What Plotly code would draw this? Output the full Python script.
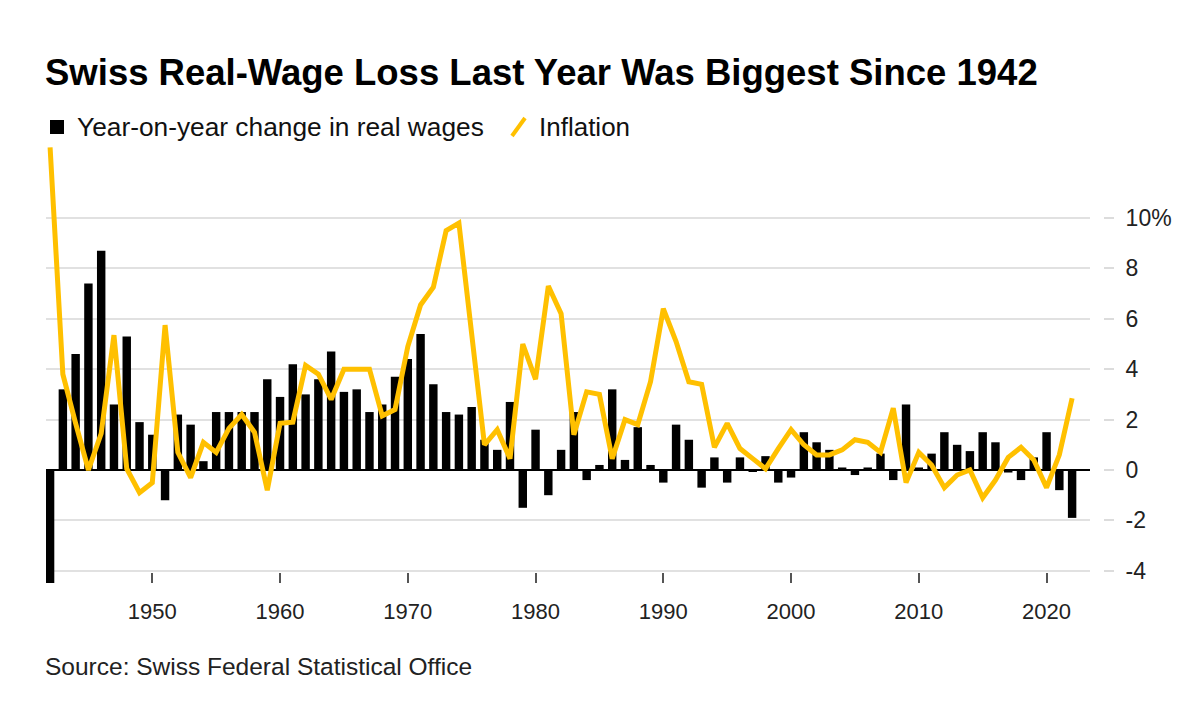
import plotly.graph_objects as go

years = list(range(1942, 2023))

real_wage_change = [
    -4.5, 3.2, 4.6, 7.4, 8.7, 2.6, 5.3, 1.9, 1.4, -1.2,      # 1942-1951
    2.2, 1.8, 0.35, 2.3, 2.3, 2.3, 2.3, 3.6, 2.9, 4.2,       # 1952-1961
    3.0, 3.6, 4.7, 3.1, 3.2, 2.3, 2.6, 3.7, 4.4, 5.4,        # 1962-1971
    3.4, 2.3, 2.2, 2.5, 1.2, 0.8, 2.7, -1.5, 1.6, -1.0,      # 1972-1981
    0.8, 2.3, -0.4, 0.2, 3.2, 0.4, 1.7, 0.2, -0.5, 1.8,      # 1982-1991
    1.2, -0.7, 0.5, -0.5, 0.5, -0.05, 0.55, -0.5, -0.3, 1.5, # 1992-2001
    1.1, 0.8, 0.1, -0.2, 0.1, 0.65, -0.4, 2.6, 0.1, 0.65,    # 2002-2011
    1.5, 1.0, 0.75, 1.5, 1.1, -0.1, -0.4, 0.5, 1.5, -0.8,    # 2012-2021
    -1.9,                                                    # 2022
]

inflation = [
    12.8, 3.8, 1.85, 0.0, 1.45, 5.35, 0.05, -0.9, -0.5, 5.75,  # 1942-1951
    0.7, -0.3, 1.1, 0.7, 1.65, 2.2, 1.5, -0.8, 1.85, 1.9,      # 1952-1961
    4.15, 3.8, 2.8, 4.0, 4.0, 4.0, 2.15, 2.4, 4.9, 6.55,       # 1962-1971
    7.25, 9.5, 9.8, 5.5, 1.0, 1.6, 0.45, 5.0, 3.6, 7.3,        # 1972-1981
    6.2, 1.4, 3.1, 3.0, 0.45, 2.0, 1.8, 3.5, 6.4, 5.1,         # 1982-1991
    3.5, 3.4, 0.9, 1.85, 0.85, 0.45, 0.05, 0.85, 1.6, 1.0,     # 1992-2001
    0.6, 0.6, 0.8, 1.2, 1.1, 0.7, 2.45, -0.5, 0.7, 0.2,        # 2002-2011
    -0.7, -0.2, 0.0, -1.1, -0.4, 0.5, 0.9, 0.4, -0.7, 0.6,     # 2012-2021
    2.85,                                                      # 2022
]

x_tick_vals = [1950, 1960, 1970, 1980, 1990, 2000, 2010, 2020]
y_tick_vals = [-4, -2, 0, 2, 4, 6, 8, 10]
y_tick_text = ["-4", "-2", "0", "2", "4", "6", "8", "10%"]

title_text = "Swiss Real-Wage Loss Last Year Was Biggest Since 1942"
legend_bar_text = "Year-on-year change in real wages"
legend_line_text = "Inflation"
source_text = "Source: Swiss Federal Statistical Office"

# ---- layout geometry (pixels); page body has an 8px margin ----
OFF = 8
W, H = 1200 - OFF, 713 - OFF
ML, MR, MT, MB = 46 - OFF, 90, 140 - OFF, 130
PW = W - ML - MR
PH = H - MT - MB


def px(x):
    """reference-image x pixel -> paper fraction"""
    return (x - OFF - ML) / PW


def py(y):
    """reference-image y pixel -> paper fraction"""
    return (OFF + MT + PH - y) / PH


FONT = "Liberation Sans, Arial, sans-serif"
YELLOW = "#FFC000"

fig = go.Figure()
fig.add_trace(go.Bar(
    x=years, y=real_wage_change, marker=dict(color="#000000", line=dict(width=0)),
    name=legend_bar_text, showlegend=False,
))
fig.add_trace(go.Scatter(
    x=years, y=inflation, mode="lines", line=dict(color=YELLOW, width=5),
    name=legend_line_text, showlegend=False,
))

fig.update_layout(
    width=W, height=H,
    margin=dict(l=ML, r=MR, t=MT, b=MB),
    paper_bgcolor="white", plot_bgcolor="white",
    bargap=0.34,
    font=dict(family=FONT, color="#222222"),
    xaxis=dict(
        domain=[0, px(1090)],
        range=[1941.68, 2023.4],
        tickvals=x_tick_vals,
        ticks="inside", ticklen=10, tickwidth=1.5, tickcolor="#555555",
        showgrid=False, zeroline=False, showline=False,
        tickfont=dict(size=22, color="#222222", family=FONT),
        ticklabelstandoff=13,
    ),
    yaxis=dict(
        anchor="free", position=px(1103), side="right",
        range=[-(583 - 470) / 25.2, (470 - 140) / 25.2],
        tickvals=y_tick_vals, ticktext=y_tick_text,
        ticks="outside", ticklen=10, tickwidth=2, tickcolor="#dcdcdc",
        showgrid=True, gridcolor="#e1e1e1", gridwidth=2,
        zeroline=True, zerolinecolor="#000000", zerolinewidth=1.5,
        showline=False,
        tickfont=dict(size=23, color="#222222", family=FONT),
        ticklabelstandoff=7,
    ),
)

annotations = [
    dict(text="<b>" + title_text + "</b>", x=px(43), y=py(72), xanchor="left", yanchor="middle",
         font=dict(size=36.5, color="#000000", family=FONT)),
    dict(text=legend_bar_text, x=px(75), y=py(127), xanchor="left", yanchor="middle",
         font=dict(size=26.3, color="#111111", family=FONT)),
    dict(text=legend_line_text, x=px(537), y=py(127), xanchor="left", yanchor="middle",
         font=dict(size=26, color="#111111", family=FONT)),
    dict(text=source_text, x=px(43), y=py(666), xanchor="left", yanchor="middle",
         font=dict(size=24.5, color="#222222", family=FONT)),
]
for a in annotations:
    a.update(xref="paper", yref="paper", showarrow=False)
fig.update_layout(annotations=annotations)

fig.update_layout(shapes=[
    dict(type="rect", xref="paper", yref="paper",
         x0=px(50), x1=px(64), y0=py(134), y1=py(120),
         fillcolor="#000000", line=dict(width=0)),
    dict(type="line", xref="paper", yref="paper",
         x0=px(512), x1=px(525), y0=py(136), y1=py(118),
         line=dict(color=YELLOW, width=4)),
])

fig.write_html("out.html")
